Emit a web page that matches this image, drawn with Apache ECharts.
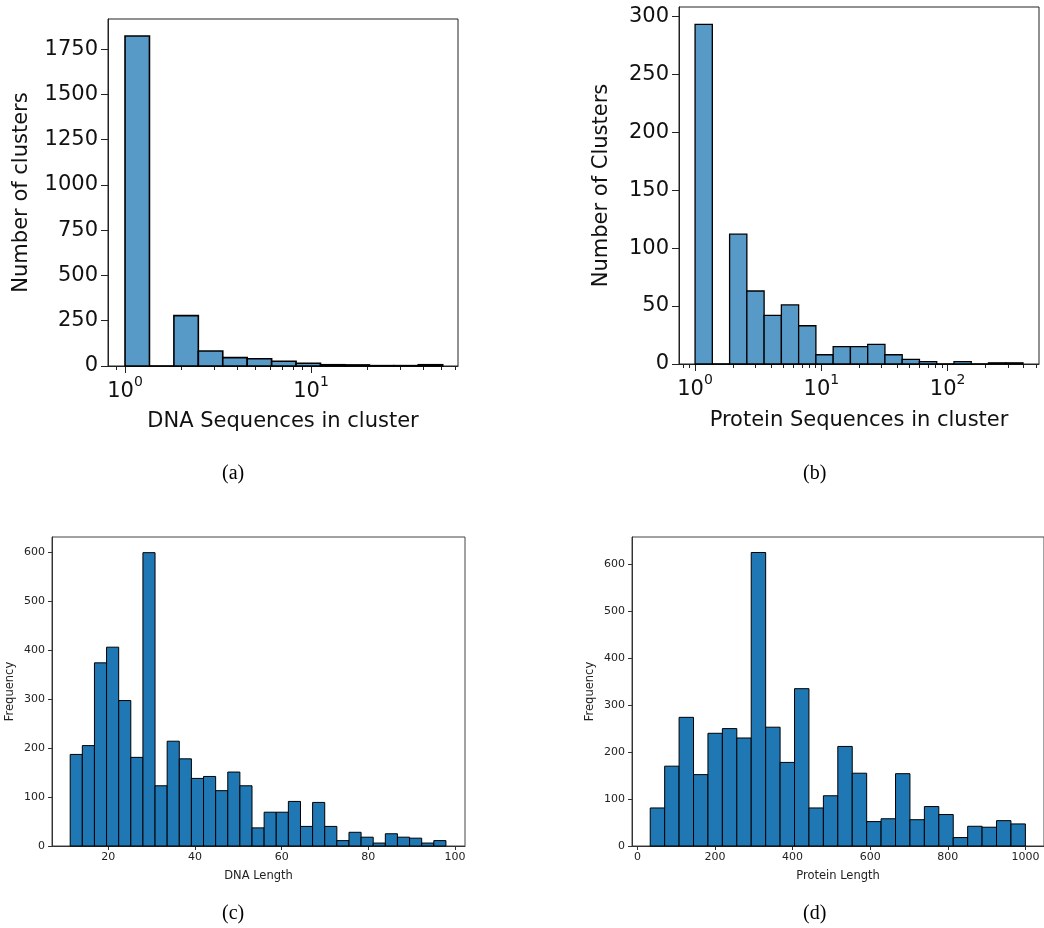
<!DOCTYPE html>
<html>
<head>
<meta charset="utf-8">
<script src="https://cdn.jsdelivr.net/npm/echarts@6/dist/echarts.min.js"></script>
<style>
html, body { margin: 0; padding: 0; background: #fff; }
#chart { width: 1044px; height: 928px; }
</style>
</head>
<body>
<div id="chart"></div>
<script>
// (a) DNA sequences per cluster, log-spaced bins
const dnaClusterCounts = [1822, 0, 278, 83, 46, 40, 26, 15, 7, 6, 2, 2, 7];
const dnaClusterLogRange = [0, 1.708];
// (b) protein sequences per cluster, log-spaced bins
const protClusterCounts = [293, 0, 112, 63, 42, 51, 33, 8, 15, 15, 17, 8, 4, 2, 0, 2, 0, 1, 1];
const protClusterLogRange = [0, 2.597];
// (c) DNA length
const dnaLengthCounts = [187, 205, 374, 406, 297, 181, 599, 123, 214, 178, 138, 142, 113, 151, 123,
  37, 69, 69, 91, 40, 89, 40, 11, 28, 18, 6, 25, 18, 16, 6, 11];
const dnaLengthRange = [11.2, 97.9];
// (d) protein length
const protLengthCounts = [81, 170, 274, 152, 240, 250, 230, 625, 253, 178, 335, 81, 107, 212, 155,
  52, 58, 154, 56, 84, 67, 18, 42, 40, 54, 47];
const protLengthRange = [33, 1000];

// tick labels
const xMajorA = [1, 10];
const xMinorA = [0.9, 2, 3, 4, 5, 6, 7, 8, 9, 20, 30, 40, 50, 60];
const yTicksA = [0, 250, 500, 750, 1000, 1250, 1500, 1750];
const xMajorB = [1, 10, 100];
const xMinorB = [0.8, 0.9, 2, 3, 4, 5, 6, 7, 8, 9, 20, 30, 40, 50, 60, 70, 80, 90, 200, 300, 400, 500];
const yTicksB = [0, 50, 100, 150, 200, 250, 300];
const xTicksC = [20, 40, 60, 80, 100];
const yTicksC = [0, 100, 200, 300, 400, 500, 600];
const xTicksD = [0, 200, 400, 600, 800, 1000];
const yTicksD = [0, 100, 200, 300, 400, 500, 600];

const FONT = 'DejaVu Sans';

function logBins(counts, range) {
  const w = (range[1] - range[0]) / counts.length;
  return counts.map((c, i) => [Math.pow(10, range[0] + i * w), Math.pow(10, range[0] + (i + 1) * w), c]);
}
function linBins(counts, range) {
  const w = (range[1] - range[0]) / counts.length;
  return counts.map((c, i) => [range[0] + i * w, range[0] + (i + 1) * w, c]);
}

function barSeries(idx, data, fill, lw) {
  return {
    type: 'custom',
    xAxisIndex: idx * 2,
    yAxisIndex: idx,
    encode: { x: [0, 1], y: 2 },
    data: data,
    renderItem: function (params, api) {
      const p0 = api.coord([api.value(0), api.value(2)]);
      const p1 = api.coord([api.value(1), 0]);
      return {
        type: 'rect',
        shape: { x: p0[0], y: p0[1], width: p1[0] - p0[0], height: p1[1] - p0[1] },
        style: { fill: fill, stroke: '#000', lineWidth: lw }
      };
    }
  };
}

function supLabel(v) {
  return '{b|10}{s|' + Math.round(Math.log10(v)) + '}';
}
function plain(v) {
  return String(v);
}

function bigX(grid, min, max, major, name, gap) {
  return {
    type: 'log', gridIndex: grid, position: 'bottom', min: min, max: max,
    name: name, nameLocation: 'middle', nameGap: gap,
    nameTextStyle: { fontFamily: FONT, fontSize: 21, color: '#111' },
    axisLine: { show: true, onZero: false, lineStyle: { color: '#222', width: 1 } },
    axisTick: { show: true, customValues: major, length: 7, lineStyle: { color: '#222' } },
    axisLabel: {
      customValues: major, margin: 9, formatter: supLabel,
      rich: {
        b: { fontFamily: FONT, fontSize: 21, color: '#111', lineHeight: 27, verticalAlign: 'bottom' },
        s: { fontFamily: FONT, fontSize: 14, color: '#111', lineHeight: 27, verticalAlign: 'top' }
      }
    },
    splitLine: { show: false }
  };
}
function minorX(grid, min, max, minor) {
  return {
    type: 'log', gridIndex: grid, position: 'bottom', min: min, max: max,
    axisLine: { show: false, onZero: false },
    axisTick: { show: true, customValues: minor, length: 4, lineStyle: { color: '#222' } },
    axisLabel: { show: false },
    splitLine: { show: false }
  };
}
function bigY(grid, max, ticks, name, gap) {
  return {
    type: 'value', gridIndex: grid, min: 0, max: max,
    name: name, nameLocation: 'middle', nameGap: gap,
    nameTextStyle: { fontFamily: FONT, fontSize: 21, color: '#111' },
    axisLine: { show: true, onZero: false, lineStyle: { color: '#222', width: 1 } },
    axisTick: { show: true, customValues: ticks, length: 7, lineStyle: { color: '#222' } },
    axisLabel: { customValues: ticks, margin: 10, formatter: plain, fontFamily: FONT, fontSize: 21, color: '#111' },
    splitLine: { show: false }
  };
}
function smallX(grid, min, max, ticks, name) {
  return {
    type: 'value', gridIndex: grid, position: 'bottom', min: min, max: max,
    name: name, nameLocation: 'middle', nameGap: 24,
    nameTextStyle: { fontFamily: FONT, fontSize: 11.5, color: '#222' },
    axisLine: { show: true, onZero: false, lineStyle: { color: '#333', width: 1 } },
    axisTick: { show: true, customValues: ticks, length: 4, lineStyle: { color: '#333' } },
    axisLabel: { customValues: ticks, margin: 6, formatter: plain, fontFamily: FONT, fontSize: 11, color: '#222' },
    splitLine: { show: false }
  };
}
function smallY(grid, max, ticks, name, gap) {
  return {
    type: 'value', gridIndex: grid, min: 0, max: max,
    name: name, nameLocation: 'middle', nameGap: gap,
    nameTextStyle: { fontFamily: FONT, fontSize: 11.5, color: '#222' },
    axisLine: { show: true, onZero: false, lineStyle: { color: '#333', width: 1 } },
    axisTick: { show: true, customValues: ticks, length: 4, lineStyle: { color: '#333' } },
    axisLabel: { customValues: ticks, margin: 7, formatter: plain, fontFamily: FONT, fontSize: 11, color: '#222' },
    splitLine: { show: false }
  };
}
// placeholder axis so that xAxisIndex = grid*2 works for the bottom grids too
function dummyX(grid, min, max) {
  return { type: 'value', gridIndex: grid, min: min, max: max, show: false };
}

const chart = echarts.init(document.getElementById('chart'));
const option = {
  animation: false,
  backgroundColor: '#fff',
  grid: [
    { left: 108, top: 19, width: 350, height: 347, show: true, borderColor: '#222', borderWidth: 1, backgroundColor: 'transparent' },
    { left: 679, top: 7, width: 360, height: 357, show: true, borderColor: '#222', borderWidth: 1, backgroundColor: 'transparent' },
    { left: 52, top: 537, width: 413, height: 309, show: true, borderColor: '#444', borderWidth: 1, backgroundColor: 'transparent' },
    { left: 632, top: 537, width: 420, height: 309, show: true, borderColor: '#444', borderWidth: 1, backgroundColor: 'transparent' }
  ],
  xAxis: [
    bigX(0, 0.81, 61.7, xMajorA, 'DNA Sequences in cluster', 45),
    minorX(0, 0.81, 61.7, xMinorA),
    bigX(1, 0.746, 529, xMajorB, 'Protein Sequences in cluster', 46),
    minorX(1, 0.746, 529, xMinorB),
    smallX(2, 7, 102.3, xTicksC, 'DNA Length'),
    dummyX(2, 7, 102.3),
    smallX(3, -14, 1048, xTicksD, 'Protein Length'),
    dummyX(3, -14, 1048)
  ],
  yAxis: [
    bigY(0, 1916, yTicksA, 'Number of clusters', 76),
    bigY(1, 308, yTicksB, 'Number of Clusters', 67),
    smallY(2, 631, yTicksC, 'Frequency', 36),
    smallY(3, 658, yTicksD, 'Frequency', 36)
  ],
  series: [
    barSeries(0, logBins(dnaClusterCounts, dnaClusterLogRange), '#5799c7', 1.6),
    barSeries(1, logBins(protClusterCounts, protClusterLogRange), '#5799c7', 1.3),
    barSeries(2, linBins(dnaLengthCounts, dnaLengthRange), '#1f77b4', 1),
    barSeries(3, linBins(protLengthCounts, protLengthRange), '#1f77b4', 1)
  ],
  graphic: [
    { type: 'text', left: 222, top: 464, style: { text: '(a)', font: '20px "Liberation Serif"', fill: '#000' } },
    { type: 'text', left: 803, top: 464, style: { text: '(b)', font: '20px "Liberation Serif"', fill: '#000' } },
    { type: 'text', left: 222, top: 904, style: { text: '(c)', font: '20px "Liberation Serif"', fill: '#000' } },
    { type: 'text', left: 803, top: 904, style: { text: '(d)', font: '20px "Liberation Serif"', fill: '#000' } }
  ]
};
chart.setOption(option);
</script>
</body>
</html>
